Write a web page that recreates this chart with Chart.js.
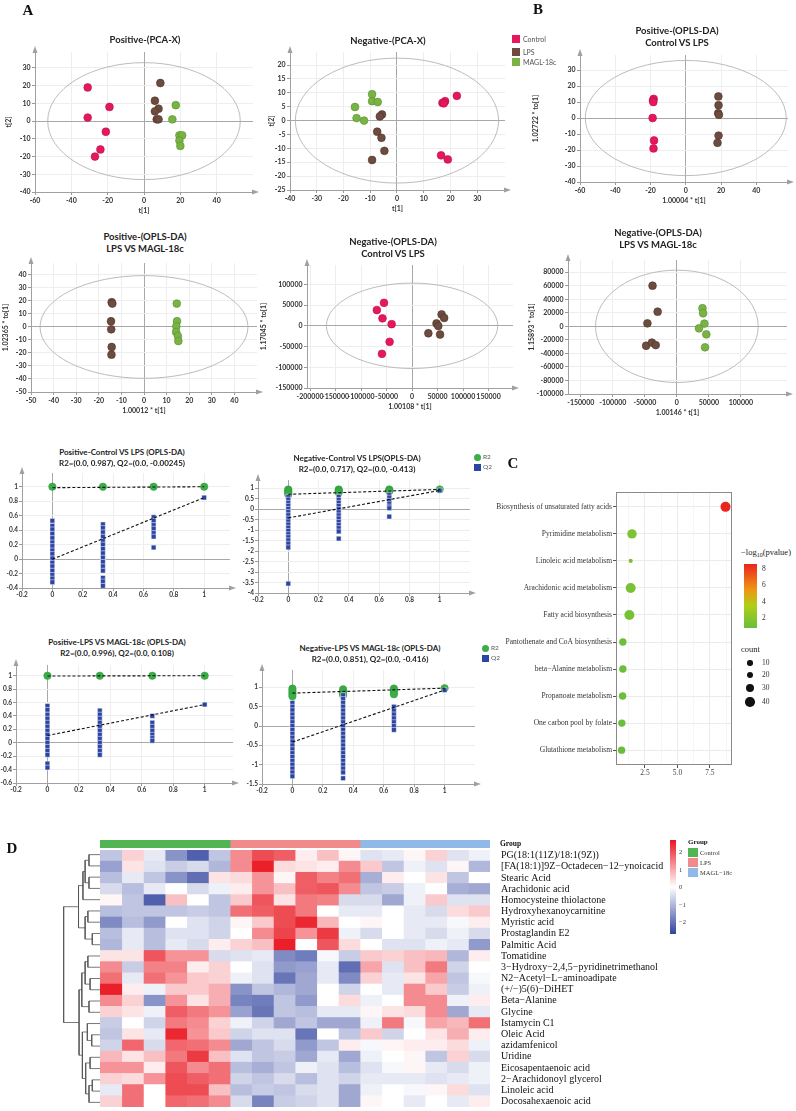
<!DOCTYPE html>
<html>
<head>
<meta charset="utf-8">
<title>Metabolomics figure</title>
<script src="https://cdn.jsdelivr.net/npm/chart.js@4.4.1/dist/chart.umd.min.js"></script>
<style>
  html, body { margin: 0; padding: 0; background: #fff; }
  body { position: relative; width: 796px; height: 1111px; overflow: hidden; font-family: Lato, "Open Sans", sans-serif; }
  canvas { position: absolute; }
  .lbl { position: absolute; white-space: nowrap; line-height: 1; }
  .box { position: absolute; }
</style>
</head>
<body>
<script>
// ---------- data ----------
const groupNames = ['Control', 'LPS', 'MAGL-18c'];
const groupFill = ['#e6175c', '#6d4b3e', '#78b344'];
const groupEdge = ['#b8104a', '#4f352b', '#5b9132'];

// A: Positive-(PCA-X)
const posPcaControl = [[-31, 19], [-19, 8], [-31, 2], [-21, -6], [-24, -16], [-27, -20]];
const posPcaLPS = [[9, 21.5], [6, 11.5], [8, 7], [6, 5.5], [7, 1], [8, 1]];
const posPcaMAGL = [[17.5, 9], [15.6, 1], [19.5, -8], [21, -8], [19.5, -11], [20, -14]];
const posPcaXTicks = [-60, -40, -20, 0, 20, 40];
const posPcaYTicks = [-40, -30, -20, -10, 0, 10, 20, 30];
const posPcaEllipse = [53, 33];

// A: Negative-(PCA-X)
const negPcaControl = [[22.4, 8.9], [18, 7], [17, 6.4], [17.5, 6.2], [16.5, -12.5], [19, -14]];
const negPcaLPS = [[-5.6, 2.2], [-6.4, 1.5], [-7.4, -4], [-5.8, -6.2], [-4.7, -10.9], [-9.3, -14.2]];
const negPcaMAGL = [[-9.3, 9.5], [-9.3, 7], [-7.2, 6.7], [-15.7, 4.9], [-15.1, 0.9], [-12.3, 0]];
const negPcaXTicks = [-40, -30, -20, -10, 0, 10, 20, 30];
const negPcaYTicks = [-25, -20, -15, -10, -5, 0, 5, 10, 15, 20];
const negPcaEllipse = [38, 22.5];

// B: Positive-(OPLS-DA) Control VS LPS
const posOplsCtrlControl = [[-18.2, 12], [-18.6, 11], [-18.4, 10], [-18.8, 0], [-18, -14], [-18.3, -19]];
const posOplsCtrlLPS = [[18.5, 13.5], [18.6, 8], [18.4, 3], [18.8, 2], [18.6, -11], [18, -15.5]];
const posOplsCtrlXTicks = [-60, -40, -20, 0, 20, 40];
const posOplsCtrlYTicks = [-40, -30, -20, -10, 0, 10, 20, 30];
const posOplsCtrlEllipse = [57, 36];

// A: Positive-(OPLS-DA) LPS VS MAGL-18c
const posOplsMaglLPS = [[-14.3, 19], [-14, 18], [-14.6, 4.4], [-14.5, -1.8], [-14.3, -15.4], [-14.4, -21.3]];
const posOplsMaglMAGL = [[14.5, 18], [14.6, 4.4], [14.3, 0.5], [14.2, -3.8], [15, -7], [15.2, -10.8]];
const posOplsMaglXTicks = [-50, -40, -30, -20, -10, 0, 10, 20, 30, 40];
const posOplsMaglYTicks = [-50, -40, -30, -20, -10, 0, 10, 20, 30, 40];
const posOplsMaglEllipse = [46, 39.5];

// A: Negative-(OPLS-DA) Control VS LPS
const negOplsCtrlControl = [[-55000, 55500], [-69000, 38000], [-58000, 18000], [-40000, 4000], [-44000, -38600], [-59000, -67600]];
const negOplsCtrlLPS = [[58000, 27500], [63000, 19000], [48000, 5800], [51500, -500], [32000, -18000], [55000, -21000]];
const negOplsCtrlXTicks = [-200000, -150000, -100000, -50000, 0, 50000, 100000, 150000];
const negOplsCtrlYTicks = [-150000, -100000, -50000, 0, 50000, 100000];
const negOplsCtrlEllipse = [168000, 103000];

// B: Negative-(OPLS-DA) LPS VS MAGL-18c
const negOplsMaglLPS = [[-38000, 60000], [-30000, 21600], [-46000, 4400], [-48000, -28700], [-39000, -24000], [-33000, -27700]];
const negOplsMaglMAGL = [[40000, 26700], [41000, 19300], [43000, 4000], [34500, -3000], [46000, -11800], [44000, -31000]];
const negOplsMaglXTicks = [-150000, -100000, -50000, 0, 50000, 100000];
const negOplsMaglYTicks = [-100000, -80000, -60000, -40000, -20000, 0, 20000, 40000, 60000, 80000];
const negOplsMaglEllipse = [127000, 83000];

// permutation tests (x = correlation with original model)
const permX = [0, 0.333, 0.667, 1];
const permXTicks = [-0.2, 0, 0.2, 0.4, 0.6, 0.8, 1];

const posCtrlR2 = [[1.0], [1.0], [1.0], [1.0]];
const posCtrlQ2 = [
  [0.53, 0.46, 0.41, 0.35, 0.29, 0.23, 0.18, 0.12, 0.07, 0.01, -0.05, -0.1, -0.16, -0.22, -0.27, -0.32],
  [0.48, 0.43, 0.37, 0.31, 0.25, 0.2, 0.14, 0.08, 0.02, -0.04, -0.1, -0.16, -0.26, -0.31, -0.37],
  [0.58, 0.53, 0.47, 0.42, 0.36, 0.31, 0.16],
  [0.85]
];
const posCtrlR2Line = [0.987, 1.0];
const posCtrlQ2Line = [-0.00245, 0.85];
const posCtrlYTicks = [-0.4, -0.2, 0, 0.2, 0.4, 0.6, 0.8, 1];

const negCtrlR2 = [[0.95, 0.9, 0.84, 0.77, 0.7], [0.95, 0.9, 0.85, 0.8], [0.95, 0.9, 0.86], [0.95]];
const negCtrlQ2 = [
  [0.6, 0.46, 0.31, 0.17, 0.02, -0.13, -0.28, -0.44, -0.58, -0.73, -0.88, -1.03, -1.19, -1.33, -1.48, -1.64, -1.82, -3.55],
  [0.6, 0.45, 0.31, 0.16, 0.01, -0.14, -0.29, -0.44, -0.6, -0.75, -0.9, -1.06, -1.4],
  [0.7, 0.56, 0.41, 0.27, 0.13, 0.05, -0.35],
  [0.9]
];
const negCtrlR2Line = [0.717, 0.95];
const negCtrlQ2Line = [-0.413, 0.9];
const negCtrlYTicks = [-4, -3.5, -3, -2.5, -2, -1.5, -1, -0.5, 0, 0.5, 1];

const posMaglR2 = [[1.0], [1.0], [1.0], [1.0]];
const posMaglQ2 = [
  [0.55, 0.49, 0.42, 0.36, 0.3, 0.24, 0.18, 0.12, 0.06, 0.0, -0.06, -0.12, -0.18, -0.31, -0.37],
  [0.48, 0.42, 0.36, 0.3, 0.24, 0.18, 0.12, 0.06, 0.0, -0.06, -0.12, -0.18],
  [0.4, 0.3, 0.24, 0.18, 0.12, 0.07, 0.03],
  [0.57]
];
const posMaglR2Line = [0.996, 1.0];
const posMaglQ2Line = [0.108, 0.57];
const posMaglYTicks = [-0.6, -0.4, -0.2, 0, 0.2, 0.4, 0.6, 0.8, 1];

const negMaglR2 = [[0.97, 0.92, 0.87, 0.82, 0.77], [0.95, 0.9, 0.85, 0.8], [0.97, 0.92, 0.87, 0.82], [0.98]];
const negMaglQ2 = [
  [0.6, 0.5, 0.41, 0.3, 0.2, 0.1, 0.0, -0.1, -0.2, -0.3, -0.4, -0.5, -0.6, -0.7, -0.8, -0.9, -1.0, -1.1, -1.2, -1.3],
  [0.8, 0.7, 0.6, 0.5, 0.4, 0.3, 0.2, 0.1, 0.0, -0.1, -0.2, -0.3, -0.4, -0.5, -0.6, -0.7, -0.8, -0.9, -1.0, -1.1, -1.2, -1.35],
  [0.5, 0.4, 0.3, 0.2, 0.1, 0.0, -0.1],
  [0.93]
];
const negMaglR2Line = [0.851, 0.98];
const negMaglQ2Line = [-0.416, 0.93];
const negMaglYTicks = [-1.5, -1, -0.5, 0, 0.5, 1];

// C: pathway enrichment
const pathways = ['Biosynthesis of unsaturated fatty acids', 'Pyrimidine metabolism', 'Linoleic acid metabolism',
  'Arachidonic acid metabolism', 'Fatty acid biosynthesis', 'Pantothenate and CoA biosynthesis',
  'beta\u2212Alanine metabolism', 'Propanoate metabolism', 'One carbon pool by folate', 'Glutathione metabolism'];
const pathwayLogP = [8.7, 1.5, 1.4, 1.4, 1.3, 0.8, 0.8, 0.78, 0.72, 0.7];
const pathwayCount = [44, 40, 1, 44, 44, 25, 25, 25, 25, 25];
const pathwayXGrid = [1.25, 2.5, 3.75, 5, 6.25, 7.5, 8.75];
const pathwayXLabels = ['', '2.5', '', '5.0', '', '7.5', ''];
const pLegendTicks = [8, 6, 4, 2];
const countLegend = [10, 20, 30, 40];

// D: heatmap (z-scores, 6 Control | 6 LPS | 6 MAGL-18c)
const metabolites = ['PG(18:1(11Z)/18:1(9Z))', '[FA(18:1)]9Z\u2212Octadecen\u221212\u2212ynoicacid', 'Stearic Acid',
  'Arachidonic acid', 'Homocysteine thiolactone', 'Hydroxyhexanoycarnitine', 'Myristic acid', 'Prostaglandin E2',
  'Palmitic Acid', 'Tomatidine', '3\u2212Hydroxy\u22122,4,5\u2212pyridinetrimethanol', 'N2\u2212Acetyl\u2212L\u2212aminoadipate',
  '(+/\u2212)5(6)\u2212DiHET', 'Beta\u2212Alanine', 'Glycine', 'Istamycin C1', 'Oleic Acid', 'azidamfenicol', 'Uridine',
  'Eicosapentaenoic acid', '2\u2212Arachidonoyl glycerol', 'Linoleic acid', 'Docosahexaenoic acid'];
const heatValues = [
  [-0.8, 0.5, -0.3, -1.5, -2.2, -0.8, 1.3, 2.0, 1.8, 0.2, 0.7, 0.1, -0.4, -0.3, 0.1, 0.5, -0.4, -0.2],
  [-1.3, 0.3, -0.4, -0.7, -0.5, -1.0, 1.3, 2.5, 0.4, 0.3, 0.2, 1.3, 0.6, -0.8, -0.2, -0.4, 0.1, -1.0],
  [-0.9, -0.3, -0.8, -1.5, -2.0, 0.3, 0.4, 1.2, 0.1, 1.8, 1.4, 1.6, -1.1, 0.2, 0, 0.3, -0.8, 0],
  [-0.5, -0.9, -0.3, 0, -0.5, -0.2, 0.2, 1.2, 0.7, 1.8, 1.9, 1.3, -0.8, -0.7, -0.2, 0, -1.1, -1.2],
  [0.1, -0.8, -2.2, 0.7, 0, -0.8, 0.6, 1.9, 0.3, 1.5, 1.4, -0.5, -0.5, -1.2, -0.2, 0.6, -0.4, -0.4],
  [-0.9, -0.8, -0.8, -0.8, -0.7, -0.8, 1.6, 1.8, 2.0, 1.5, 0, -0.3, -0.3, 0, -0.3, -0.5, 0.4, 0.6],
  [-1.6, -0.9, -1.4, 0, -0.4, -0.6, 0.1, 0.6, 2.0, 2.4, 0.8, 0, 0.1, 0, -0.3, -0.3, -0.1, 0.2],
  [-0.9, -0.3, -0.9, -0.4, -0.4, -0.6, 0, 1.3, 2.1, 1.2, 2.2, -0.2, -0.5, 0, -0.3, -0.5, -0.2, -0.5],
  [-1.0, -0.3, -0.9, -0.3, -0.5, 0.2, 0.5, 0.7, 2.5, 0, 1.9, 0.4, 0, -0.4, -0.4, -0.2, -0.3, -1.4],
  [0.3, 0.3, 1.9, 1.2, 1.2, -0.5, -0.4, -0.3, -1.6, -1.8, -0.1, -0.7, 0.6, 0.5, 0.7, 0.8, -1.0, 0.2],
  [1.3, -0.7, 1.4, 1.4, 0.2, 0.5, 0, -0.4, -1.4, -1.3, -0.3, -2.0, 1.0, -0.4, 0.7, 1.5, -0.6, 0],
  [1.6, -0.3, 1.6, 1.2, 0.6, 0.5, -0.2, -0.4, -1.9, -1.2, -0.3, -1.6, 0.5, -0.3, 0.3, 1.0, -0.8, -0.1],
  [2.5, 0.2, -0.2, 0.6, 0.6, 0.9, -1.5, -0.8, -1.0, -1.2, 0, -0.6, 0, -0.3, 1.3, 0.6, -0.7, -0.2],
  [1.3, 0.5, -1.5, 1.2, 0.3, 0.9, -1.7, -1.8, -0.8, -1.4, 0, 0.4, -0.2, 0, 1.3, 1.3, -0.2, 0.2],
  [0.5, 0.3, -0.2, 1.8, 1.5, 1.2, -1.3, -1.9, -0.8, -0.9, -0.3, -0.3, 0.1, 0.3, 0.4, 1.3, -1.2, -0.3],
  [-0.7, 0, -0.6, 1.5, 1.3, 0.5, -0.2, -0.6, -1.2, -0.8, -1.2, -1.2, -0.2, 1.5, -0.1, 1.0, 0.8, 1.6],
  [-0.8, 0.3, -0.3, 2.4, 1.2, 0.6, -0.6, -0.4, -0.4, -1.9, 0, -0.8, 0.6, -0.6, 0, 0.3, 0.9, 0.2],
  [-0.6, 1.7, -0.5, 1.7, 1.6, 1.3, -1.2, -0.8, -0.5, -1.4, -0.8, 0.2, -0.1, 0.1, 0.2, 0.2, 0.4, -0.2],
  [0.8, 0.3, 0.7, 1.5, 2.2, 0.7, -0.4, -0.8, -0.7, -1.2, -0.3, -1.2, -0.2, 0, 0.1, -0.8, 0.5, -0.5],
  [1.2, 1.2, 0.2, 1.9, 1.3, 1.6, -0.9, -1.1, -0.8, -0.2, -0.4, -0.9, -0.4, -0.1, 0.1, -0.3, -0.5, -0.2],
  [0.5, 0.4, 1.2, 2.0, 1.8, 1.6, -0.6, -0.8, -0.5, -0.9, -0.4, -0.6, -0.3, -0.3, -0.3, -0.4, -0.3, -0.2],
  [-0.3, 1.6, 0, 2.0, 2.0, 0.7, -0.9, -0.7, -0.8, -0.5, -0.4, -1.2, -0.2, 0, -0.1, 0.1, 0.4, -0.4],
  [0.5, 1.6, 0, 1.7, 1.6, 1.3, -0.5, -1.7, -0.7, -0.6, -0.4, -1.2, 0.1, 0, -0.3, 0, -0.3, 0.2]
];
const groupSizes = [6, 6, 6];
const heatGroupColors = ['#53b453', '#f08a8b', '#8fb9e6'];
const heatLegendTicks = [2, 1, 0, -1, -2];
// row dendrogram, scipy style: leaves 0..22, merge k gets id 23+k
const rowLinkage = [
  [0, 1, 2.0], [2, 3, 2.0], [23, 24, 2.7], [25, 4, 3.1], [7, 8, 1.4], [5, 6, 2.2], [28, 27, 2.7], [26, 29, 3.9],
  [9, 10, 2.2], [11, 12, 1.8], [31, 32, 2.7], [13, 14, 2.0], [33, 34, 3.3], [16, 17, 1.5], [15, 36, 2.3],
  [18, 19, 1.8], [20, 21, 1.4], [39, 22, 2.0], [38, 40, 2.6], [37, 41, 3.2], [35, 42, 3.8], [30, 43, 6.6]
];

// ---------- helpers ----------
Chart.defaults.font.family = 'Lato, "Open Sans", sans-serif';
Chart.defaults.color = '#333';
const tickFont = { size: 7, weight: 'bold' };
const permTickFont = { size: 6.5, weight: 'bold' };
const serif = '"Liberation Serif", "DejaVu Serif", serif';

function mix(stops, t) {
  t = Math.max(0, Math.min(1, t));
  for (let i = 1; i < stops.length; i++) {
    if (t <= stops[i][0]) {
      const [t0, c0] = stops[i - 1], [t1, c1] = stops[i];
      const f = (t - t0) / (t1 - t0);
      return 'rgb(' + c0.map((v, k) => Math.round(v + (c1[k] - v) * f)).join(',') + ')';
    }
  }
}
function gradientCss(stops) {
  return 'linear-gradient(to top,' + stops.map(([t, c]) => `rgb(${c.join(',')}) ${t * 100}%`).join(',') + ')';
}
const heatStops = [[0, [49, 67, 158]], [0.5, [255, 255, 255]], [1, [233, 22, 32]]];
const heatColor = v => mix(heatStops, (v + 2.6) / 5.2);
const pStops = [[0, [104, 190, 60]], [0.35, [176, 206, 24]], [0.6, [238, 150, 20]], [1, [236, 36, 32]]];
const pColor = v => mix(pStops, (v - 0.7) / 8.0);
const countRadius = n => 2 + n * 0.068;

function addCanvas(left, top, width, height) {
  const c = document.createElement('canvas');
  c.width = width; c.height = height;
  Object.assign(c.style, { left: left + 'px', top: top + 'px', width: width + 'px', height: height + 'px' });
  document.body.appendChild(c);
  return c;
}
function txt(html, x, y, css, align) {
  const d = document.createElement('div');
  d.className = 'lbl';
  d.innerHTML = html;
  d.style.cssText = `left:${x}px;top:${y}px;` + (css || '');
  d.style.transform = align === 'left' ? 'translate(0,-50%)' : 'translate(-50%,-50%)';
  document.body.appendChild(d);
}
function box(x, y, w, h, css) {
  const d = document.createElement('div');
  d.className = 'box';
  d.style.cssText = `left:${x}px;top:${y}px;width:${w}px;height:${h}px;` + css;
  document.body.appendChild(d);
}

const ellipsePlugin = {
  id: 'ellipse',
  beforeDatasetsDraw(chart, args, opts) {
    if (!opts.radii) return;
    const { ctx, scales: { x, y } } = chart;
    const cx = x.getPixelForValue(0), cy = y.getPixelForValue(0);
    const rx = x.getPixelForValue(opts.radii[0]) - cx, ry = cy - y.getPixelForValue(opts.radii[1]);
    ctx.save();
    ctx.strokeStyle = '#b4b4b4'; ctx.lineWidth = 0.9;
    ctx.beginPath(); ctx.ellipse(cx, cy, rx, ry, 0, 0, Math.PI * 2); ctx.stroke();
    ctx.restore();
  }
};
const arrowPlugin = {
  id: 'axisArrows',
  afterDraw(chart, args, opts) {
    if (!opts.show) return;
    const { ctx, chartArea: a } = chart;
    ctx.save(); ctx.fillStyle = '#a0a0a0';
    ctx.beginPath(); ctx.moveTo(a.left, a.top - 6); ctx.lineTo(a.left - 2.5, a.top + 1); ctx.lineTo(a.left + 2.5, a.top + 1); ctx.fill();
    ctx.beginPath(); ctx.moveTo(a.right + 6, a.bottom); ctx.lineTo(a.right - 1, a.bottom - 2.5); ctx.lineTo(a.right - 1, a.bottom + 2.5); ctx.fill();
    ctx.restore();
  }
};
const framePlugin = {
  id: 'frame',
  afterDatasetsDraw(chart, args, opts) {
    if (!opts.show) return;
    const { ctx, chartArea: a } = chart;
    ctx.save(); ctx.strokeStyle = '#8a8a8a'; ctx.lineWidth = 1;
    ctx.strokeRect(a.left + 0.5, a.top + 0.5, a.right - a.left - 1, a.bottom - a.top - 1);
    ctx.restore();
  }
};
Chart.register(ellipsePlugin, arrowPlugin, framePlugin);

function axisOpts(range, ticks, title, fit, pad, font) {
  return {
    type: 'linear', min: range[0], max: range[1],
    afterBuildTicks: s => { s.ticks = ticks.map(v => ({ value: v })); },
    afterFit: fit,
    ticks: { font: font, color: '#333', padding: pad, maxRotation: 0, autoSkip: false, callback: v => String(v) },
    grid: { color: c => (c.tick && c.tick.value === 0) ? '#a8a8a8' : '#eeeeee', tickLength: 3, tickColor: '#9a9a9a' },
    border: { color: '#a0a0a0' },
    title: { display: !!title, text: title || '', font: { size: 7, weight: 'bold' }, color: '#333', padding: { top: 0, bottom: 1 } }
  };
}
const baseOpts = { responsive: false, animation: false, events: [] };

// ---------- A / B: score plots ----------
const scorePlots = [
  { title: ['Positive-(PCA-X)'], titleAt: [145, 40], plot: [35, 52, 253, 192], yw: 30, x: [-60, 60], y: [-40, 39],
    xTicks: posPcaXTicks, yTicks: posPcaYTicks, ellipse: posPcaEllipse,
    groups: [posPcaControl, posPcaLPS, posPcaMAGL], colors: [0, 1, 2], xTitle: 't[1]', yTitle: 't[2]' },
  { title: ['Negative-(PCA-X)'], titleAt: [388, 41], plot: [290, 52, 505, 190], yw: 22, x: [-40, 40.4], y: [-25, 24.7],
    xTicks: negPcaXTicks, yTicks: negPcaYTicks, ellipse: negPcaEllipse,
    groups: [negPcaControl, negPcaLPS, negPcaMAGL], colors: [0, 1, 2], xTitle: 't[1]', yTitle: 't[2]' },
  { title: ['Positive-(OPLS-DA)', 'Control VS LPS'], titleAt: [677, 31], plot: [580, 55, 788, 182], yw: 48, x: [-60, 58], y: [-40, 39.4],
    xTicks: posOplsCtrlXTicks, yTicks: posOplsCtrlYTicks, ellipse: posOplsCtrlEllipse,
    groups: [posOplsCtrlControl, posOplsCtrlLPS], colors: [0, 1], xTitle: '1.00004 * t[1]', yTitle: '1.02722 * to[1]' },
  { title: ['Positive-(OPLS-DA)', 'LPS VS MAGL-18c'], titleAt: [145, 237], plot: [31, 263, 257, 392], yw: 29, x: [-50, 50], y: [-50, 49.2],
    xTicks: posOplsMaglXTicks, yTicks: posOplsMaglYTicks, ellipse: posOplsMaglEllipse,
    groups: [posOplsMaglLPS, posOplsMaglMAGL], colors: [1, 2], xTitle: '1.00012 * t[1]', yTitle: '1.02365 * to[1]' },
  { title: ['Negative-(OPLS-DA)', 'Control VS LPS'], titleAt: [393, 242], plot: [307, 265, 513, 388], yw: 47, x: [-206000, 198000], y: [-150000, 146600],
    xTicks: negOplsCtrlXTicks, yTicks: negOplsCtrlYTicks, ellipse: negOplsCtrlEllipse,
    groups: [negOplsCtrlControl, negOplsCtrlLPS], colors: [0, 1], xTitle: '1.00108 * t[1]', yTitle: '1.17045 * to[1]' },
  { title: ['Negative-(OPLS-DA)', 'LPS VS MAGL-18c'], titleAt: [658, 233], plot: [568, 260, 787, 394], yw: 40, x: [-170000, 172000], y: [-100000, 98000],
    xTicks: negOplsMaglXTicks, yTicks: negOplsMaglYTicks, ellipse: negOplsMaglEllipse,
    groups: [negOplsMaglLPS, negOplsMaglMAGL], colors: [1, 2], xTitle: '1.00146 * t[1]', yTitle: '1.15893 * to[1]' }
];

scorePlots.forEach(p => {
  const [L, T, R, B] = p.plot;
  const padT = 7, padR = 8, xh = 24;
  const cv = addCanvas(L - p.yw, T - padT, R - L + p.yw + padR, B - T + padT + xh);
  new Chart(cv, {
    type: 'scatter',
    data: {
      datasets: p.groups.map((pts, i) => ({
        data: pts.map(([x, y]) => ({ x, y })),
        backgroundColor: groupFill[p.colors[i]], borderColor: groupEdge[p.colors[i]], borderWidth: 0.6,
        pointRadius: 3.9, pointHoverRadius: 3.9
      }))
    },
    options: {
      ...baseOpts,
      layout: { padding: { top: padT, right: padR } },
      plugins: { legend: { display: false }, tooltip: { enabled: false }, ellipse: { radii: p.ellipse }, axisArrows: { show: true } },
      scales: {
        x: axisOpts(p.x, p.xTicks, p.xTitle, s => { s.height = xh; }, 2, tickFont),
        y: axisOpts(p.y, p.yTicks, p.yTitle, s => { s.width = p.yw; }, 1.5, tickFont)
      }
    }
  });
  p.title.forEach((line, k) => txt(line, p.titleAt[0], p.titleAt[1] + k * 12, 'font-weight:bold;font-size:9.5px;color:#222'));
});

// PCA group legend
groupNames.forEach((g, i) => {
  box(512, 35 + [0, 13, 23][i], 8, 8, 'background:' + groupFill[i]);
  txt(g, 523, 39 + [0, 13, 23][i], 'font-size:7px;color:#555', 'left');
});

// ---------- permutation plots ----------
const permPlots = [
  { title: ['Positive-Control VS LPS (OPLS-DA)', 'R2=(0.0, 0.987), Q2=(0.0, -0.00245)'], titleAt: [122, 452],
    plot: [22, 473, 230, 588], yw: 20, x: [-0.2, 1.17], y: [-0.4, 1.19], yTicks: posCtrlYTicks,
    r2: posCtrlR2, q2: posCtrlQ2, r2Line: posCtrlR2Line, q2Line: posCtrlQ2Line },
  { title: ['Negative-Control VS LPS(OPLS-DA)', 'R2=(0.0, 0.717), Q2=(0.0, -0.413)'], titleAt: [357, 458],
    plot: [258, 480, 470, 593], yw: 20, x: [-0.2, 1.2], y: [-4, 1.4], yTicks: negCtrlYTicks,
    r2: negCtrlR2, q2: negCtrlQ2, r2Line: negCtrlR2Line, q2Line: negCtrlQ2Line, legendAt: [477, 457] },
  { title: ['Positive-LPS VS MAGL-18c (OPLS-DA)', 'R2=(0.0, 0.996), Q2=(0.0, 0.108)'], titleAt: [117, 642],
    plot: [16, 665, 233, 783], yw: 16, x: [-0.2, 1.18], y: [-0.6, 1.16], yTicks: posMaglYTicks,
    r2: posMaglR2, q2: posMaglQ2, r2Line: posMaglR2Line, q2Line: posMaglQ2Line },
  { title: ['Negative-LPS VS MAGL-18c (OPLS-DA)', 'R2=(0.0, 0.851), Q2=(0.0, -0.416)'], titleAt: [370, 648],
    plot: [262, 670, 475, 784], yw: 20, x: [-0.2, 1.2], y: [-1.5, 1.45], yTicks: negMaglYTicks,
    r2: negMaglR2, q2: negMaglQ2, r2Line: negMaglR2Line, q2Line: negMaglQ2Line, legendAt: [485, 648] }
];
const R2_COLOR = '#3cae48', Q2_COLOR = '#2c45a3';
const flattenCols = cols => cols.flatMap((ys, i) => ys.map(y => ({ x: permX[i], y })));
const dashed = ends => ({
  data: [{ x: 0, y: ends[0] }, { x: 1, y: ends[1] }], showLine: true,
  borderColor: '#111', borderWidth: 1.1, borderDash: [3, 2], pointRadius: 0
});

permPlots.forEach(p => {
  const [L, T, R, B] = p.plot;
  const padT = 7, padR = 8, xh = 13;
  const cv = addCanvas(L - p.yw, T - padT, R - L + p.yw + padR, B - T + padT + xh);
  new Chart(cv, {
    type: 'scatter',
    data: {
      datasets: [
        dashed(p.r2Line), dashed(p.q2Line),
        { data: flattenCols(p.q2), pointStyle: 'rect', pointRadius: 3.4, backgroundColor: Q2_COLOR, borderColor: '#ffffff', borderWidth: 0.5 },
        { data: flattenCols(p.r2), pointStyle: 'circle', pointRadius: 3.7, backgroundColor: R2_COLOR, borderColor: '#2f9a3b', borderWidth: 0.5 }
      ]
    },
    options: {
      ...baseOpts,
      layout: { padding: { top: padT, right: padR } },
      plugins: { legend: { display: false }, tooltip: { enabled: false }, axisArrows: { show: true } },
      scales: {
        x: axisOpts(p.x, permXTicks, '', s => { s.height = xh; }, 0, permTickFont),
        y: axisOpts(p.y, p.yTicks, '', s => { s.width = p.yw; }, 1, permTickFont)
      }
    }
  });
  p.title.forEach((line, k) => txt(line, p.titleAt[0], p.titleAt[1] + k * 11, 'font-weight:bold;font-size:8px;color:#222'));
  if (p.legendAt) {
    const [lx, ly] = p.legendAt;
    box(lx - 3.5, ly - 3.5, 7, 7, 'border-radius:50%;background:' + R2_COLOR);
    box(lx - 3.5, ly + 6.5, 7, 7, 'background:' + Q2_COLOR);
    txt('R2', lx + 6, ly, 'font-size:6.5px;color:#555', 'left');
    txt('Q2', lx + 6, ly + 10, 'font-size:6.5px;color:#555', 'left');
  }
});

// ---------- C: bubble plot ----------
(function () {
  const L = 616, T = 492, R = 732, B = 765, yw = 126, padT = 6, padR = 6, xh = 15;
  const cv = addCanvas(L - yw, T - padT, R - L + yw + padR, B - T + padT + xh);
  new Chart(cv, {
    type: 'bubble',
    data: {
      datasets: [{
        data: pathways.map((n, i) => ({ x: pathwayLogP[i], y: i, r: countRadius(pathwayCount[i]) })),
        backgroundColor: pathwayLogP.map(pColor), borderWidth: 0
      }]
    },
    options: {
      ...baseOpts,
      layout: { padding: { top: padT, right: padR } },
      plugins: { legend: { display: false }, tooltip: { enabled: false }, frame: { show: true } },
      scales: {
        x: {
          type: 'linear', min: 0.27, max: 9.2,
          afterBuildTicks: s => { s.ticks = pathwayXGrid.map(v => ({ value: v })); },
          afterFit: s => { s.height = xh; },
          ticks: { font: { family: serif, size: 7.5 }, color: '#444', padding: 1, maxRotation: 0, autoSkip: false,
            callback: (v, i) => pathwayXLabels[i] },
          grid: { color: c => pathwayXLabels[c.index] ? '#ebebeb' : '#f6f6f6', tickLength: 3,
            tickColor: c => pathwayXLabels[c.index] ? '#555' : 'rgba(0,0,0,0)' },
          border: { display: false }
        },
        y: {
          type: 'linear', reverse: true, min: -0.55, max: 9.55,
          afterBuildTicks: s => { s.ticks = pathways.map((_, i) => ({ value: i })); },
          afterFit: s => { s.width = yw; },
          ticks: { font: { family: serif, size: 7.5 }, color: '#333', padding: 1, autoSkip: false, callback: v => pathways[v] },
          grid: { color: '#ebebeb', tickLength: 3, tickColor: '#555' },
          border: { display: false }
        }
      }
    }
  });
  // legends
  txt('\u2212log<sub style="font-size:6px">10</sub>(pvalue)', 741, 553, `font-family:${serif};font-size:8.5px;color:#222`, 'left');
  box(744, 564, 13, 64, 'background:' + gradientCss(pStops));
  pLegendTicks.forEach(v => txt(String(v), 762, 628 - (v - 0.77) * 8.17, `font-family:${serif};font-size:7.5px;color:#333`, 'left'));
  txt('count', 741, 649, `font-family:${serif};font-size:8.5px;color:#222`, 'left');
  countLegend.forEach((n, i) => {
    const r = countRadius(n), cy = [663, 675, 688, 702][i];
    box(750 - r, cy - r, 2 * r, 2 * r, 'border-radius:50%;background:#111');
    txt(String(n), 762, cy, `font-family:${serif};font-size:7.5px;color:#333`, 'left');
  });
})();

// ---------- D: heatmap ----------
(function () {
  const L = 100, R = 490, T = 849, B = 1108, labelW = 185, pad = 8;
  const nCols = heatValues[0].length;
  // cells
  const cv = addCanvas(L, T - pad, R - L + labelW, B - T + 2 * pad);
  new Chart(cv, {
    type: 'bar',
    data: {
      labels: metabolites,
      datasets: heatValues[0].map((_, c) => ({
        data: metabolites.map(() => [c, c + 1]),
        backgroundColor: metabolites.map((m, r) => heatColor(heatValues[r][c])),
        borderWidth: 0, barPercentage: 1, categoryPercentage: 1, grouped: false, inflateAmount: 0.4
      }))
    },
    options: {
      ...baseOpts, indexAxis: 'y',
      layout: { padding: { top: pad, bottom: pad } },
      plugins: { legend: { display: false }, tooltip: { enabled: false } },
      scales: {
        x: { type: 'linear', min: 0, max: nCols, display: false },
        y: {
          position: 'right', afterFit: s => { s.width = labelW; },
          ticks: { font: { family: serif, size: 10 }, color: '#111', padding: 3, autoSkip: false },
          grid: { display: false }, border: { display: false }
        }
      }
    }
  });
  // group annotation bar
  const gv = addCanvas(L, 840, R - L, 8);
  let start = 0;
  new Chart(gv, {
    type: 'bar',
    data: {
      labels: ['Group'],
      datasets: groupSizes.map((n, i) => {
        const ds = { data: [[start, start + n]], backgroundColor: heatGroupColors[i], borderWidth: 0,
          barPercentage: 1, categoryPercentage: 1, grouped: false, inflateAmount: 0.4 };
        start += n;
        return ds;
      })
    },
    options: {
      ...baseOpts, indexAxis: 'y',
      plugins: { legend: { display: false }, tooltip: { enabled: false } },
      scales: { x: { type: 'linear', min: 0, max: nCols, display: false }, y: { display: false } }
    }
  });
  txt('Group', 500, 844, `font-family:${serif};font-weight:bold;font-size:7.5px;color:#111`, 'left');
  // row dendrogram
  const nodes = metabolites.map((m, i) => ({ y: i, h: 0 }));
  const segs = rowLinkage.map(([a, b, h]) => {
    const na = nodes[a], nb = nodes[b];
    nodes.push({ y: (na.y + nb.y) / 2, h });
    return [{ x: na.h, y: na.y }, { x: h, y: na.y }, { x: h, y: nb.y }, { x: nb.h, y: nb.y }];
  });
  const dv = addCanvas(62, T - pad, L - 62, B - T + 2 * pad);
  new Chart(dv, {
    type: 'scatter',
    data: { datasets: segs.map(s => ({ data: s, showLine: true, borderColor: '#555', borderWidth: 0.8, pointRadius: 0 })) },
    options: {
      ...baseOpts,
      layout: { padding: { top: pad, bottom: pad } },
      plugins: { legend: { display: false }, tooltip: { enabled: false } },
      scales: {
        x: { type: 'linear', reverse: true, min: 0, max: 6.9, display: false },
        y: { type: 'linear', reverse: true, min: -0.5, max: metabolites.length - 0.5, display: false }
      }
    }
  });
  // legends
  box(670, 840, 6, 94, 'background:' + gradientCss(heatStops));
  heatLegendTicks.forEach(v => txt(String(v).replace('-', '\u2212'), 679, 887 - v * 17.5, `font-family:${serif};font-size:6.5px;color:#333`, 'left'));
  txt('Group', 688, 842, `font-family:${serif};font-weight:bold;font-size:7px;color:#111`, 'left');
  groupNames.forEach((g, i) => {
    box(688, 848 + i * 10, 10, 9, 'background:' + heatGroupColors[i]);
    txt(g.replace('-', '\u2212'), 700, 852.5 + i * 10, `font-family:${serif};font-size:6.5px;color:#333`, 'left');
  });
})();

// panel letters
[['A', 28, 10], ['B', 538, 9], ['C', 513, 463], ['D', 12, 848]].forEach(([s, x, y]) =>
  txt(s, x, y, `font-family:${serif};font-weight:bold;font-size:15px;color:#111`));
</script>
</body>
</html>
